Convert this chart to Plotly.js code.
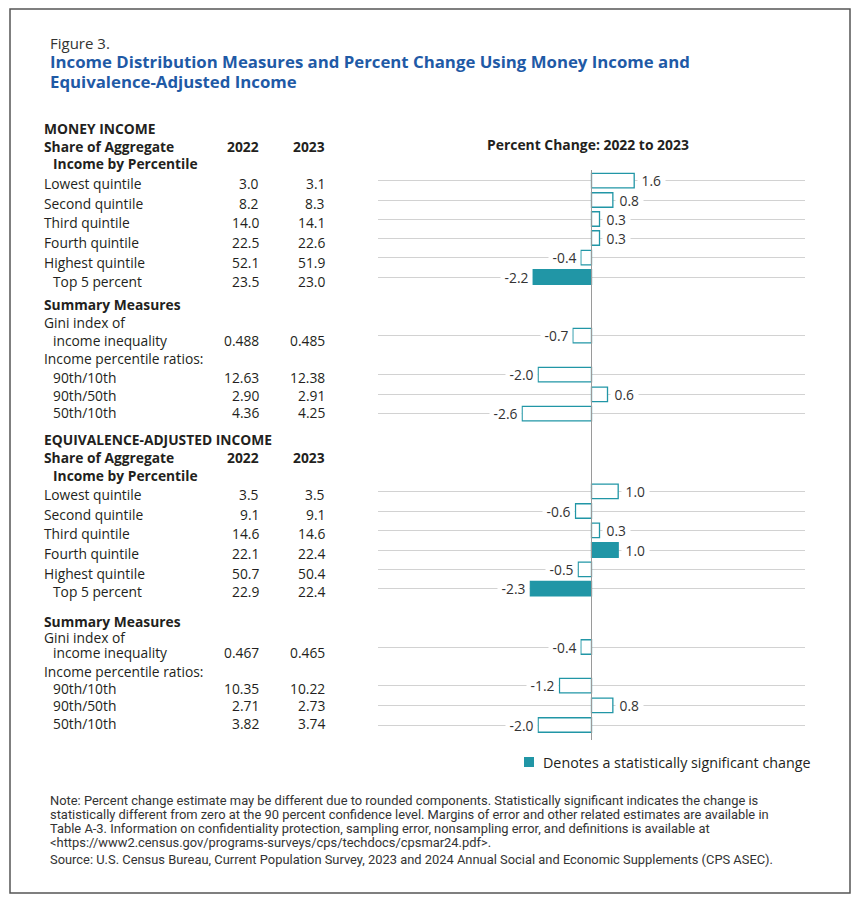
<!DOCTYPE html>
<html><head><meta charset="utf-8">
<script src="https://cdn.plot.ly/plotly-3.0.1.min.js"></script>
<style>html,body{margin:0;padding:0;background:#fff;}#chart{width:860px;height:900px;}</style>
</head><body><div id="chart"></div>
<script>
// ---------- DATA ----------
const quintileLabels = ['Lowest quintile','Second quintile','Third quintile','Fourth quintile','Highest quintile','Top 5 percent'];
const summaryLabels = ['income inequality','90th/10th','90th/50th','50th/10th'];

const money2022 = ['3.0','8.2','14.0','22.5','52.1','23.5'];
const money2023 = ['3.1','8.3','14.1','22.6','51.9','23.0'];
const moneyChange = [1.6, 0.8, 0.3, 0.3, -0.4, -2.2];
const moneySig = [false,false,false,false,false,true];

const moneySum2022 = ['0.488','12.63','2.90','4.36'];
const moneySum2023 = ['0.485','12.38','2.91','4.25'];
const moneySumChange = [-0.7, -2.0, 0.6, -2.6];
const moneySumSig = [false,false,false,false];

const equiv2022 = ['3.5','9.1','14.6','22.1','50.7','22.9'];
const equiv2023 = ['3.5','9.1','14.6','22.4','50.4','22.4'];
const equivChange = [1.0, -0.6, 0.3, 1.0, -0.5, -2.3];
const equivSig = [false,false,false,true,false,true];

const equivSum2022 = ['0.467','10.35','2.71','3.82'];
const equivSum2023 = ['0.465','10.22','2.73','3.74'];
const equivSumChange = [-0.4, -1.2, 0.8, -2.0];
const equivSumSig = [false,false,false,false];

const noteLines = [
 'Note: Percent change estimate may be different due to rounded components. Statistically significant indicates the change is',
 'statistically different from zero at the 90 percent confidence level. Margins of error and other related estimates are available in',
 'Table A-3. Information on confidentiality protection, sampling error, nonsampling error, and definitions is available at',
 '&lt;https://www2.census.gov/programs-surveys/cps/techdocs/cpsmar24.pdf&gt;.'
];
const sourceLine = 'Source: U.S. Census Bureau, Current Population Survey, 2023 and 2024 Annual Social and Economic Supplements (CPS ASEC).';

// ---------- LAYOUT POSITIONS (pixels from top) ----------
const W = 860, H = 900;
const P = x => x / W;
const TEAL = '#2196a6';
const TXT = '#231f20';
const FONT = 'Open Sans, sans-serif';
const FS = 13.8;

const sec = [
  {head:'MONEY INCOME', y0:128, share:146, inc:163, qText:[183,203,222,242,262,281], qBar:[180.7,200,219,238,257.7,277],
   sum:304, gini:322, ratios:358, sText:[340.5,377.3,395.3,412.7], sBar:[335.7,374.7,394.3,413.7],
   q22:money2022, q23:money2023, qCh:moneyChange, qSig:moneySig, s22:moneySum2022, s23:moneySum2023, sCh:moneySumChange, sSig:moneySumSig},
  {head:'EQUIVALENCE-ADJUSTED INCOME', y0:439, share:457, inc:475, qText:[494,514,533,553,573,591], qBar:[491.3,511,530.3,550,569.3,588.7],
   sum:621, gini:637.3, ratios:671, sText:[652.7,688.3,705.7,723.3], sBar:[647,685.7,705.3,725],
   q22:equiv2022, q23:equiv2023, qCh:equivChange, qSig:equivSig, s22:equivSum2022, s23:equivSum2023, sCh:equivSumChange, sSig:equivSumSig}
];

const anns = [];
function T(text, x, y, o) {
  o = o || {};
  anns.push({text:text, x:P(x), y:y, xref:'paper', yref:'y', showarrow:false,
    xanchor:o.xa||'left', yanchor:'middle', align:o.align||'left',
    font:{family:o.family||FONT, size:o.size||FS, color:o.color||TXT}});
}

// titles
T('Figure 3.', 48, 43, {size:15, color:'#333'});
T('<b>Income Distribution Measures and Percent Change Using Money Income and</b>', 48, 61.5, {size:16.8, color:'#1f5aa6'});
T('<b>Equivalence-Adjusted Income</b>', 48, 81, {size:16.8, color:'#1f5aa6'});
T('<b>Percent Change: 2022 to 2023</b>', 588, 144, {xa:'center', size:13.9});

const barY = [], barX = [], barFill = [];
sec.forEach(s => {
  T('<b>'+s.head+'</b>', 42, s.y0);
  T('<b>Share of Aggregate</b>', 42, s.share);
  T('<b>2022</b>', 261, s.share, {xa:'right'});
  T('<b>2023</b>', 327, s.share, {xa:'right'});
  T('<b>Income by Percentile</b>', 51, s.inc);
  quintileLabels.forEach((l,i) => {
    T(l, i === 5 ? 51 : 42, s.qText[i]);
    T(s.q22[i], 261, s.qText[i], {xa:'right'});
    T(s.q23[i], 327, s.qText[i], {xa:'right'});
    barY.push(s.qBar[i]); barX.push(s.qCh[i]); barFill.push(s.qSig[i]);
  });
  T('<b>Summary Measures</b>', 42, s.sum);
  T('Gini index of', 42, s.gini);
  T('Income percentile ratios:', 42, s.ratios);
  summaryLabels.forEach((l,i) => {
    T(l, 51, s.sText[i]);
    T(s.s22[i], 261, s.sText[i], {xa:'right'});
    T(s.s23[i], 327, s.sText[i], {xa:'right'});
    barY.push(s.sBar[i]); barX.push(s.sCh[i]); barFill.push(s.sSig[i]);
  });
});

// value labels on bars (white background interrupts the gridline)
barX.forEach((v,i) => {
  anns.push({text:'&nbsp;' + v.toFixed(1) + '&nbsp;', x:v, y:barY[i], xref:'x', yref:'y', showarrow:false,
    xanchor: v >= 0 ? 'left' : 'right', yanchor:'middle', xshift: v >= 0 ? 2.5 : 0,
    bgcolor:'#ffffff', borderpad:0,
    font:{family:FONT, size:13.8, color:'#333'}});
});

// legend
T('Denotes a statistically significant change', 541, 762, {size:14.3});

// footnote
const noteY = [800, 814, 828, 842];
noteLines.forEach((l,i) => T(l, 48, noteY[i], {family:'Roboto, sans-serif', size:12.9, color:'#333'}));
T(sourceLine, 48, 859, {family:'Roboto, sans-serif', size:12.9, color:'#333'});

const shapes = [
  {type:'rect', xref:'paper', yref:'y', x0:P(10), x1:P(850), y0:9, y1:893, line:{color:'#555', width:1.5}, fillcolor:'rgba(0,0,0,0)', layer:'below'},
  {type:'line', xref:'x', yref:'y', x0:0, x1:0, y0:170, y1:740, line:{color:'#9a9a9a', width:1}, layer:'above'},
  {type:'rect', xref:'paper', yref:'y', x0:P(524), x1:P(534), y0:757, y1:767, line:{width:0}, fillcolor:TEAL}
];

const trace = {
  type:'bar', orientation:'h', x:barX, y:barY, width:14.5,
  marker:{color:barFill.map(f => f ? TEAL : '#ffffff'), line:{color:TEAL, width:1.3}},
  hoverinfo:'none', showlegend:false
};

const layout = {
  width:W, height:H, margin:{l:0,r:0,t:0,b:0},
  paper_bgcolor:'#fff', plot_bgcolor:'rgba(0,0,0,0)',
  xaxis:{domain:[P(378), P(805)], range:[-8,8], showgrid:false, zeroline:false, showticklabels:false, ticks:'', fixedrange:true},
  yaxis:{domain:[0,1], range:[H,0], autorange:false, tickvals:barY, showticklabels:false, ticks:'', showgrid:true,
         gridcolor:'#d2d2d2', gridwidth:1, zeroline:false, fixedrange:true},
  annotations:anns, shapes:shapes, showlegend:false
};
Plotly.newPlot('chart', [trace], layout, {staticPlot:true, displayModeBar:false});
</script></body></html>
